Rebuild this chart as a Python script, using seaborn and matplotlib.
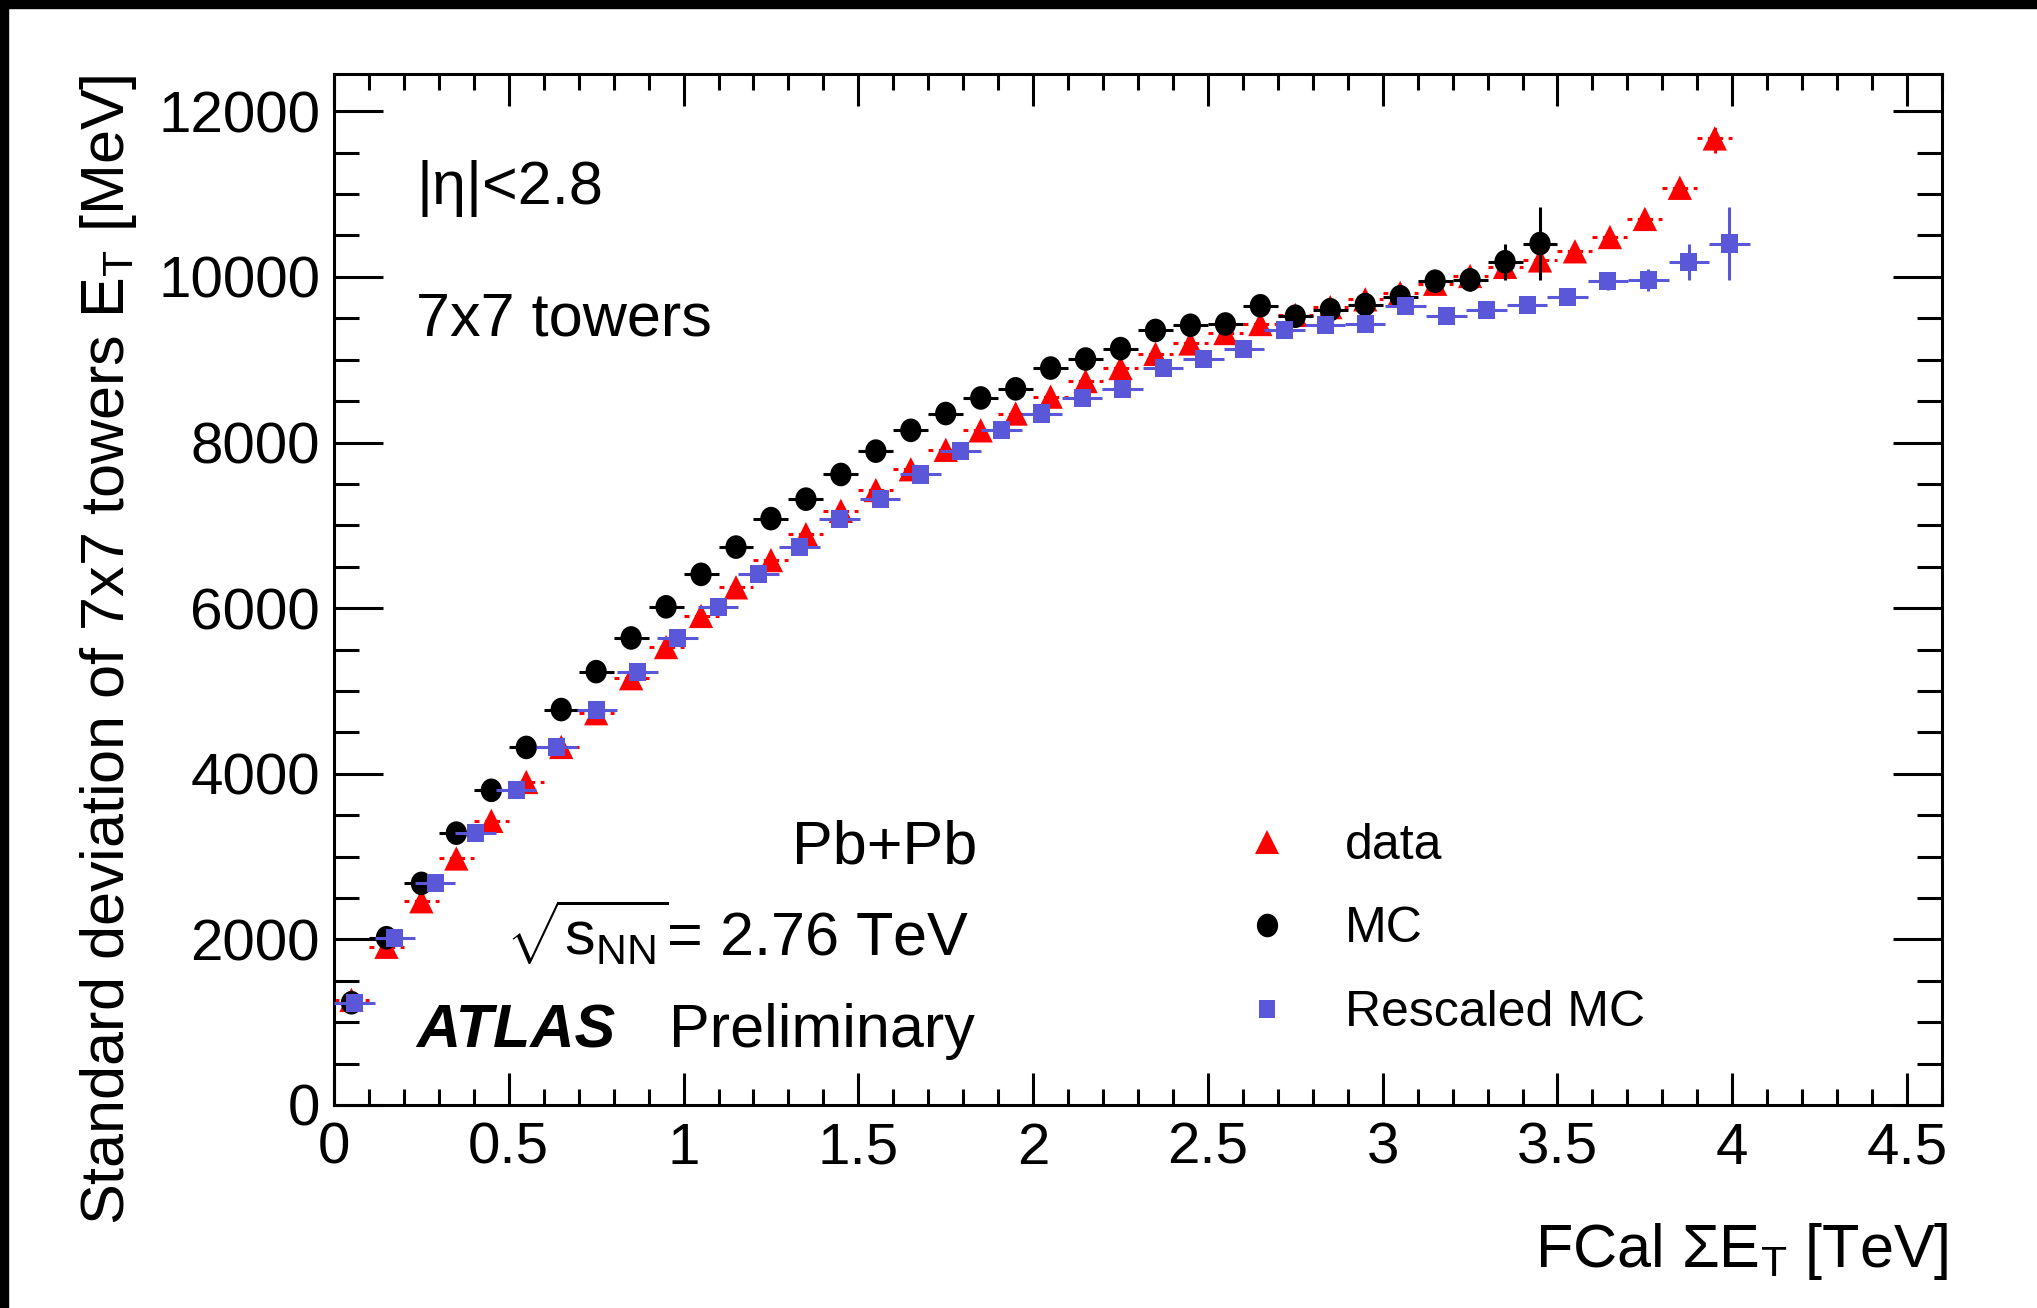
import numpy as np
import pandas as pd
import matplotlib
matplotlib.use("Agg")
import matplotlib.pyplot as plt
import seaborn as sns
from matplotlib.path import Path
from matplotlib.transforms import Affine2D
from matplotlib.lines import Line2D
from matplotlib.patches import Rectangle
from matplotlib.ticker import MultipleLocator

# ---------------- data ----------------
x_data = [0.05, 0.15, 0.25, 0.35, 0.45, 0.55, 0.65, 0.75, 0.85, 0.95,
          1.05, 1.15, 1.25, 1.35, 1.45, 1.55, 1.65, 1.75, 1.85, 1.95,
          2.05, 2.15, 2.25, 2.35, 2.45, 2.55, 2.65, 2.75, 2.85, 2.95,
          3.05, 3.15, 3.25, 3.35, 3.45, 3.55, 3.65, 3.75, 3.85, 3.95]
y_data = [1269, 1911, 2460, 2977, 3431, 3901, 4324, 4731, 5154, 5530,
          5906, 6251, 6580, 6893, 7175, 7426, 7677, 7912, 8147, 8350,
          8554, 8742, 8899, 9071, 9196, 9322, 9431, 9541, 9635, 9729,
          9807, 9917, 10011, 10121, 10199, 10309, 10481, 10700, 11076, 11672]
yerr_data = [8, 8, 8, 8, 8, 9, 9, 9, 10, 10,
             10, 11, 11, 12, 12, 13, 13, 14, 14, 15,
             16, 16, 17, 18, 19, 20, 21, 22, 24, 26,
             28, 30, 33, 36, 40, 50, 60, 80, 120, 180]

x_mc = [0.05, 0.15, 0.25, 0.35, 0.45, 0.55, 0.65, 0.75, 0.85, 0.95,
        1.05, 1.15, 1.25, 1.35, 1.45, 1.55, 1.65, 1.75, 1.85, 1.95,
        2.05, 2.15, 2.25, 2.35, 2.45, 2.55, 2.65, 2.75, 2.85, 2.95,
        3.05, 3.15, 3.25, 3.35, 3.45]
y_mc = [1235, 2020, 2676, 3283, 3800, 4318, 4775, 5233, 5640, 6016,
        6408, 6737, 7081, 7316, 7614, 7896, 8147, 8350, 8538, 8648,
        8899, 9008, 9134, 9353, 9416, 9431, 9651, 9525, 9604, 9666,
        9760, 9948, 9964, 10183, 10403]
yerr_mc = [10, 10, 10, 10, 10, 10, 12, 12, 12, 14,
           14, 15, 16, 17, 18, 20, 22, 24, 26, 28,
           30, 33, 36, 40, 44, 48, 53, 58, 65, 75,
           90, 110, 130, 220, 440]

x_resc = [0.058, 0.174, 0.289, 0.405, 0.521, 0.636, 0.752, 0.868, 0.983, 1.099,
          1.215, 1.331, 1.446, 1.562, 1.678, 1.793, 1.909, 2.025, 2.140, 2.256,
          2.372, 2.488, 2.603, 2.719, 2.835, 2.950, 3.066, 3.182, 3.297, 3.413,
          3.529, 3.644, 3.760, 3.876, 3.992]
y_resc = [1235, 2020, 2676, 3283, 3800, 4318, 4775, 5233, 5640, 6016,
          6408, 6737, 7081, 7316, 7614, 7896, 8147, 8350, 8538, 8648,
          8899, 9008, 9134, 9353, 9416, 9431, 9651, 9525, 9604, 9666,
          9760, 9948, 9964, 10183, 10403]
yerr_resc = [10, 10, 10, 10, 10, 10, 12, 12, 12, 14,
             14, 15, 16, 17, 18, 20, 22, 24, 26, 28,
             30, 33, 36, 40, 44, 48, 53, 58, 65, 75,
             90, 110, 130, 220, 440]

xerr_bin = 0.05
xerr_resc = 0.058

x_ticks = [0, 0.5, 1, 1.5, 2, 2.5, 3, 3.5, 4, 4.5]
x_ticklabels = ["0", "0.5", "1", "1.5", "2", "2.5", "3", "3.5", "4", "4.5"]
y_ticks = [0, 2000, 4000, 6000, 8000, 10000, 12000]
y_ticklabels = ["0", "2000", "4000", "6000", "8000", "10000", "12000"]

series_labels = ["data", "MC", "Rescaled MC"]
c_data = "#ff0000"
c_mc = "#000000"
c_resc = "#5a57d8"

# ---------------- style ----------------
sns.set_theme(style="ticks")
plt.rcParams["font.family"] = ["Liberation Sans", "DejaVu Sans"]
plt.rcParams["mathtext.fontset"] = "custom"
plt.rcParams["mathtext.rm"] = "Liberation Sans"
plt.rcParams["mathtext.it"] = "Liberation Sans:italic"
plt.rcParams["mathtext.bf"] = "Liberation Sans:bold"
plt.rcParams["axes.linewidth"] = 2.2
plt.rcParams["text.color"] = "black"
plt.rcParams["axes.labelcolor"] = "black"
plt.rcParams["xtick.color"] = "black"
plt.rcParams["ytick.color"] = "black"
plt.rcParams["axes.edgecolor"] = "black"

W, H = 2037, 1308
fig = plt.figure(figsize=(W / 100, H / 100), dpi=100)
fig.patch.set_facecolor("white")

L, R, T, B = 334, 1942, 74, 1105
ax = fig.add_axes([L / W, 1 - B / H, (R - L) / W, (B - T) / H])
ax.set_facecolor("white")

# custom (slightly narrow) markers like the ROOT output
circ = Path.unit_circle().transformed(Affine2D().scale(0.9, 1.0))
sq = Path.unit_rectangle().transformed(Affine2D().translate(-0.5, -0.5).scale(0.94, 1.0))
tri = "^"

ms_tri, ms_circ, ms_sq = 17.5, 17.0, 13.0

df_data = pd.DataFrame({"x": x_data, "y": y_data})
df_mc = pd.DataFrame({"x": x_mc, "y": y_mc})
df_resc = pd.DataFrame({"x": x_resc, "y": y_resc})

# data: red triangles, dashed error bars
eb = ax.errorbar(x_data, y_data, xerr=xerr_bin, yerr=yerr_data, fmt="none",
                 ecolor=c_data, elinewidth=2.2, capsize=0, zorder=2)
for lc in eb.lines[2]:
    lc.set_linestyle((0, (1.6, 1.8)))
sns.scatterplot(data=df_data, x="x", y="y", marker=tri, s=ms_tri ** 2,
                color=c_data, edgecolor="none", linewidth=0, ax=ax,
                legend=False, zorder=3)

# MC: black circles
ax.errorbar(x_mc, y_mc, xerr=xerr_bin, yerr=yerr_mc, fmt="none",
            ecolor=c_mc, elinewidth=2.2, capsize=0, zorder=4)
sns.scatterplot(data=df_mc, x="x", y="y", marker=circ, s=ms_circ ** 2,
                color=c_mc, edgecolor="none", linewidth=0, ax=ax,
                legend=False, zorder=5)

# Rescaled MC: blue squares
ax.errorbar(x_resc, y_resc, xerr=xerr_resc, yerr=yerr_resc, fmt="none",
            ecolor=c_resc, elinewidth=2.2, capsize=0, zorder=6)
sns.scatterplot(data=df_resc, x="x", y="y", marker=sq, s=ms_sq ** 2,
                color=c_resc, edgecolor="none", linewidth=0, ax=ax,
                legend=False, zorder=7)

# axes
ax.set_xlim(0, 4.6)
ax.set_ylim(0, 12450)
ax.set_xticks(x_ticks, labels=x_ticklabels)
ax.set_yticks(y_ticks, labels=y_ticklabels)
ax.xaxis.set_minor_locator(MultipleLocator(0.1))
ax.yaxis.set_minor_locator(MultipleLocator(500))
ax.tick_params(which="both", direction="in", top=True, right=True,
               width=2.2, color="black", labelsize=42, labelcolor="black")
ax.tick_params(axis="y", which="major", length=35, pad=10)
ax.tick_params(axis="y", which="minor", length=18)
ax.tick_params(axis="x", which="major", length=23, pad=12)
ax.tick_params(axis="x", which="minor", length=11.5)
for s in ax.spines.values():
    s.set_visible(True)
    s.set_color("black")
    s.set_linewidth(2.2)
ax.set_xlabel("")
ax.set_ylabel("")
ax.grid(False)

def fx(px):
    return px / W

def fy(py):
    return 1 - py / H

fs = 44
fig.text(fx(1949), fy(1267), "FCal ΣE$_\\mathregular{T}$ [TeV]", fontsize=fs,
         ha="right", va="baseline", color="black")
fig.text(fx(124), fy(74), "Standard deviation of 7x7 towers E$_\\mathregular{T}$ [MeV]",
         fontsize=fs, rotation=90, rotation_mode="anchor", ha="right", va="baseline",
         color="black")

fig.text(fx(416), fy(204), "|η|<2.8", fontsize=fs, ha="left", va="baseline", color="black")
fig.text(fx(416), fy(336), "7x7 towers", fontsize=fs, ha="left", va="baseline", color="black")
fig.text(fx(792), fy(863), "Pb+Pb", fontsize=fs, ha="left", va="baseline", color="black")
fig.text(fx(506), fy(955), r"$\sqrt{\mathrm{s}_{\mathrm{NN}}}$= 2.76 TeV", fontsize=fs,
         ha="left", va="baseline", color="black")
fig.text(fx(416), fy(1047), "ATLAS", fontsize=fs, fontweight="bold", fontstyle="italic",
         ha="left", va="baseline", color="black")
fig.text(fx(669), fy(1047), "Preliminary", fontsize=fs, ha="left", va="baseline", color="black")

# legend
handles = [
    Line2D([], [], linestyle="none", marker=tri, markersize=ms_tri, color=c_data,
           markeredgewidth=0),
    Line2D([], [], linestyle="none", marker=circ, markersize=ms_circ, color=c_mc,
           markeredgewidth=0),
    Line2D([], [], linestyle="none", marker=sq, markersize=ms_sq, color=c_resc,
           markeredgewidth=0),
]
leg = ax.legend(handles, series_labels, loc="upper left",
                bbox_to_anchor=(fx(1242), fy(823)), bbox_transform=fig.transFigure,
                frameon=False, fontsize=36, handlelength=1.0, handletextpad=1.06,
                labelspacing=0.75, borderpad=0, borderaxespad=0)
for t in leg.get_texts():
    t.set_color("black")

# black frame on top and left edge
fig.add_artist(Rectangle((0, 1 - 8 / H), 1, 8 / H, transform=fig.transFigure,
                         color="black", zorder=10))
fig.add_artist(Rectangle((0, 0), 8 / W, 1, transform=fig.transFigure,
                         color="black", zorder=10))

fig.savefig("out.png", dpi=100, facecolor="white")
